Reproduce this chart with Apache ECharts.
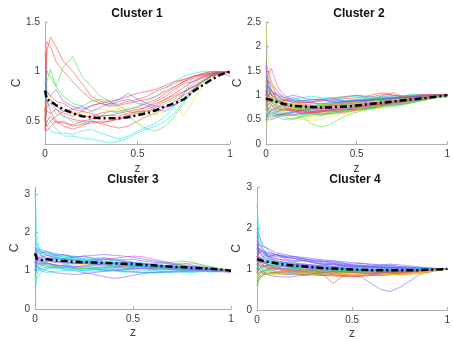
<!DOCTYPE html>
<html>
<head>
<meta charset="utf-8">
<script src="https://cdn.jsdelivr.net/npm/echarts@6/dist/echarts.min.js"></script>
<style>html,body{margin:0;padding:0;background:#fff}#c{width:453px;height:341px}</style>
</head>
<body>
<div id="c"></div>
<script>
const zValues = [0,0.01,0.03,0.06,0.1,0.15,0.2,0.25,0.3,0.35,0.4,0.45,0.5,0.55,0.6,0.65,0.7,0.75,0.8,0.85,0.9,0.95,1];
const titles = ['Cluster 1','Cluster 2','Cluster 3','Cluster 4'];
const xTicks = [0,0.5,1];
const yTicks1 = [0.5,1,1.5];
const yTicks2 = [0,0.5,1,1.5,2,2.5];
const yTicks3 = [0,1,2,3];
const yTicks4 = [0,1,2,3];

const mean1 = [0.81,0.72,0.7,0.66,0.62,0.58,0.55,0.54,0.53,0.53,0.53,0.54,0.56,0.58,0.61,0.65,0.68,0.72,0.8,0.86,0.92,0.97,1.0];
const mean2 = [0.93,0.92,0.9,0.86,0.82,0.78,0.77,0.76,0.75,0.75,0.76,0.77,0.79,0.81,0.83,0.85,0.87,0.89,0.91,0.93,0.95,0.97,1.0];
const mean3 = [1.45,1.3,1.28,1.3,1.27,1.25,1.23,1.22,1.21,1.2,1.19,1.18,1.17,1.15,1.14,1.12,1.1,1.09,1.07,1.06,1.05,1.03,1.0];
const mean4 = [1.24,1.22,1.2,1.17,1.14,1.1,1.08,1.06,1.04,1.02,1.01,1.0,0.99,0.98,0.97,0.97,0.97,0.97,0.97,0.97,0.98,0.99,1.0];

const colors1 = ['r','r','g','g','c','c','b','r','r','r','r','r','y','r','c','r','b'];
const lines1 = [
[0.5,1.3,1.25,1.1,1.0,0.9,0.8,0.72,0.68,0.65,0.66,0.68,0.7,0.72,0.75,0.8,0.85,0.9,0.93,0.96,0.98,1.0,0.98],
[0.45,1.2,1.35,1.25,1.1,1.0,0.88,0.75,0.7,0.68,0.67,0.7,0.72,0.75,0.8,0.84,0.88,0.92,0.95,0.97,0.99,1.0,1.0],
[0.7,1.0,0.95,0.85,1.05,1.15,0.95,0.85,0.75,0.7,0.62,0.55,0.48,0.42,0.4,0.45,0.55,0.68,0.8,0.88,0.95,0.98,1.0],
[0.6,0.9,1.02,0.85,0.75,0.68,0.65,0.7,0.72,0.7,0.65,0.6,0.58,0.6,0.62,0.68,0.72,0.78,0.85,0.92,0.97,1.0,1.0],
[0.7,0.55,0.5,0.42,0.35,0.35,0.33,0.32,0.3,0.28,0.3,0.33,0.38,0.42,0.45,0.5,0.58,0.7,0.8,0.9,0.96,1.0,1.0],
[0.6,0.45,0.4,0.38,0.38,0.37,0.4,0.42,0.38,0.35,0.32,0.35,0.4,0.44,0.48,0.55,0.65,0.78,0.95,0.98,1.0,1.0,0.99],
[1.2,0.8,0.75,0.82,0.7,0.65,0.62,0.66,0.68,0.66,0.7,0.72,0.68,0.66,0.62,0.6,0.66,0.78,0.88,0.94,0.97,0.99,1.0],
[0.42,0.5,0.55,0.48,0.5,0.45,0.47,0.48,0.5,0.5,0.52,0.55,0.58,0.62,0.66,0.72,0.78,0.84,0.9,0.95,0.98,1.0,1.0],
[0.55,0.6,0.58,0.62,0.55,0.52,0.5,0.5,0.48,0.5,0.53,0.56,0.6,0.65,0.7,0.75,0.82,0.88,0.9,0.94,0.97,0.99,1.0],
[0.48,0.45,0.5,0.55,0.6,0.58,0.55,0.55,0.58,0.6,0.6,0.62,0.64,0.68,0.72,0.78,0.84,0.9,0.95,0.98,1.0,1.0,1.0],
[0.4,0.7,0.6,0.5,0.45,0.42,0.45,0.5,0.48,0.45,0.43,0.45,0.5,0.55,0.58,0.64,0.7,0.76,0.82,0.9,0.96,0.99,1.0],
[0.5,0.65,0.68,0.62,0.58,0.55,0.6,0.65,0.68,0.7,0.72,0.75,0.78,0.8,0.82,0.86,0.9,0.92,0.95,0.97,0.98,1.0,0.95],
[0.7,0.75,0.7,0.65,0.62,0.6,0.58,0.6,0.62,0.6,0.62,0.64,0.6,0.58,0.56,0.6,0.7,0.55,0.7,0.85,0.95,0.98,1.0],
[0.6,0.8,0.75,0.7,0.68,0.62,0.6,0.58,0.55,0.56,0.58,0.6,0.62,0.64,0.68,0.72,0.76,0.8,0.84,0.9,0.96,0.98,1.0],
[0.8,0.7,0.65,0.58,0.55,0.5,0.48,0.5,0.55,0.6,0.58,0.62,0.65,0.7,0.75,0.82,0.9,0.95,0.98,1.0,1.0,1.0,1.0],
[0.45,0.4,0.45,0.5,0.48,0.46,0.5,0.52,0.55,0.56,0.55,0.58,0.6,0.6,0.64,0.7,0.74,0.8,0.85,0.9,0.95,0.98,1.0],
[0.9,0.7,0.72,0.65,0.6,0.62,0.65,0.6,0.64,0.68,0.72,0.78,0.72,0.68,0.65,0.64,0.66,0.72,0.82,0.9,0.96,0.99,1.0]
];

const colors2 = ['y','r','m','g','c','b','y','r','g','c','m','b','y','r','g','c','b','r','m','g','y','c','b','r','g','y','m','r',
  'g','c','r','y','b','m','g','r','c','y','g','b','r','m'];
const lines2 = [
[2.45,1.8,1.3,1.0,0.85,0.8,0.78,0.75,0.72,0.74,0.76,0.78,0.8,0.83,0.85,0.86,0.88,0.9,0.92,0.94,0.96,0.98,1.0],
[1.7,1.5,1.25,1.1,0.95,0.88,0.85,0.86,0.88,0.9,0.92,0.93,0.95,0.96,0.98,1.02,1.0,0.98,1.0,1.02,1.0,1.01,1.0],
[1.6,1.4,1.55,1.2,1.0,0.9,0.88,0.85,0.82,0.84,0.86,0.88,0.9,0.92,0.94,0.95,0.96,0.97,0.98,0.99,1.0,1.02,1.0],
[0.6,0.8,0.9,0.75,0.65,0.6,0.55,0.42,0.35,0.4,0.5,0.6,0.65,0.7,0.74,0.78,0.82,0.86,0.88,0.92,0.95,0.98,1.0],
[1.3,1.1,1.0,0.95,0.9,0.92,0.95,0.98,0.95,0.94,0.9,0.88,0.87,0.88,0.9,0.92,0.93,0.94,0.96,0.97,0.98,0.99,1.0],
[0.5,0.6,0.55,0.6,0.62,0.6,0.62,0.64,0.66,0.68,0.7,0.72,0.75,0.78,0.8,0.82,0.85,0.88,0.9,0.93,0.96,0.98,1.0],
[0.3,0.45,0.5,0.55,0.6,0.55,0.5,0.48,0.5,0.55,0.6,0.64,0.68,0.72,0.75,0.8,0.84,0.88,0.9,0.92,0.95,0.97,1.0],
[1.2,1.0,1.1,0.9,0.8,0.75,0.72,0.7,0.72,0.75,0.78,0.82,0.85,0.88,0.92,1.0,1.05,0.98,0.95,0.98,1.0,1.0,1.0],
[0.9,1.1,1.0,0.85,0.78,0.72,0.7,0.68,0.66,0.68,0.72,0.75,0.78,0.8,0.82,0.84,0.86,0.88,0.9,0.93,0.96,0.99,1.0],
[1.0,0.8,0.7,0.65,0.6,0.58,0.62,0.66,0.7,0.72,0.75,0.78,0.8,0.82,0.84,0.85,0.86,0.88,0.92,0.95,0.98,1.0,1.0],
[0.7,0.65,0.6,0.58,0.62,0.66,0.7,0.72,0.74,0.78,0.8,0.82,0.8,0.82,0.85,0.88,0.9,0.91,0.92,0.94,0.96,0.98,1.0],
[1.1,1.0,0.9,0.85,0.88,0.9,0.86,0.84,0.82,0.84,0.86,0.88,0.9,0.91,0.92,0.93,0.94,0.95,0.96,0.97,0.98,0.99,1.0],
[0.8,0.7,0.75,0.7,0.65,0.62,0.58,0.56,0.58,0.6,0.62,0.65,0.68,0.7,0.72,0.74,0.76,0.8,0.84,0.88,0.92,0.96,1.0],
[1.4,1.2,1.0,0.9,0.85,0.82,0.8,0.78,0.8,0.82,0.84,0.86,0.88,0.9,0.92,0.94,0.95,0.96,0.97,0.98,0.99,1.0,1.0],
[1.1,0.9,0.8,0.7,0.68,0.7,0.75,0.78,0.8,0.82,0.85,0.88,0.9,0.92,0.93,0.94,0.95,0.96,0.97,0.98,0.99,1.0,1.0],
[0.55,0.65,0.7,0.75,0.72,0.7,0.74,0.78,0.82,0.85,0.88,0.9,0.92,0.93,0.94,0.95,0.96,0.97,0.98,0.99,1.0,1.0,1.0],
[0.9,0.75,0.65,0.6,0.62,0.65,0.68,0.7,0.7,0.68,0.66,0.68,0.7,0.72,0.76,0.8,0.84,0.86,0.88,0.9,0.94,0.98,1.0],
[0.7,0.8,0.85,0.8,0.75,0.7,0.68,0.66,0.65,0.66,0.68,0.7,0.72,0.74,0.78,0.82,0.86,0.9,0.94,0.96,0.98,1.0,1.0],
[1.0,1.2,1.1,0.95,0.85,0.8,0.78,0.76,0.74,0.72,0.74,0.76,0.78,0.8,0.82,0.84,0.86,0.88,0.9,0.92,0.95,0.98,1.0],
[0.8,0.7,0.6,0.55,0.5,0.52,0.55,0.6,0.62,0.64,0.66,0.68,0.7,0.72,0.74,0.76,0.78,0.8,0.84,0.88,0.92,0.96,1.0],
[1.0,0.9,0.85,0.8,0.78,0.76,0.74,0.72,0.7,0.7,0.72,0.74,0.76,0.78,0.8,0.83,0.86,0.88,0.9,0.92,0.95,0.98,1.05],
[1.5,1.2,1.1,1.0,0.95,0.9,0.88,0.9,0.92,0.94,0.96,0.97,0.98,0.97,0.96,0.97,0.98,0.99,1.0,1.0,1.0,1.0,1.0],
[0.6,0.55,0.5,0.55,0.6,0.65,0.7,0.75,0.78,0.8,0.82,0.84,0.86,0.88,0.9,0.91,0.92,0.93,0.94,0.95,0.96,0.98,0.95],
[0.5,0.6,0.7,0.72,0.7,0.68,0.66,0.64,0.62,0.62,0.64,0.66,0.7,0.74,0.76,0.78,0.8,0.82,0.85,0.9,0.95,1.0,1.0],
[1.3,1.0,0.9,0.85,0.8,0.78,0.76,0.74,0.76,0.78,0.8,0.82,0.84,0.86,0.88,0.9,0.92,0.94,0.96,0.97,0.98,0.99,1.0],
[0.4,0.5,0.6,0.65,0.7,0.72,0.74,0.76,0.78,0.8,0.82,0.84,0.86,0.87,0.88,0.9,0.91,0.92,0.94,0.96,0.98,1.0,1.0],
[1.2,0.9,0.8,0.75,0.7,0.66,0.64,0.66,0.68,0.7,0.72,0.74,0.76,0.79,0.82,0.85,0.88,0.9,0.92,0.94,0.97,0.99,1.0],
[0.9,1.3,1.2,1.0,0.9,0.85,0.82,0.8,0.78,0.8,0.82,0.84,0.86,0.88,0.9,0.92,0.94,0.95,0.96,0.98,0.99,1.0,1.0],
[1.4,1.2,0.95,0.8,0.7,0.72,0.7,0.74,0.76,0.8,0.78,0.82,0.85,0.83,0.87,0.9,0.88,0.92,0.95,0.93,0.97,1.0,1.0],
[0.8,1.0,0.85,0.92,0.8,0.85,0.9,0.86,0.9,0.95,0.92,0.96,1.0,0.97,0.95,0.98,1.0,0.98,1.02,1.0,0.99,1.01,1.0],
[1.1,0.7,0.8,0.65,0.72,0.68,0.62,0.66,0.7,0.67,0.72,0.7,0.75,0.78,0.76,0.8,0.83,0.86,0.9,0.92,0.95,0.98,1.0],
[0.6,0.9,0.7,0.78,0.7,0.6,0.55,0.58,0.62,0.66,0.7,0.68,0.72,0.75,0.78,0.76,0.8,0.84,0.86,0.9,0.93,0.97,1.0],
[1.2,1.4,1.1,1.0,0.9,0.95,0.88,0.92,0.9,0.88,0.85,0.87,0.9,0.88,0.9,0.93,0.95,0.94,0.97,0.98,1.0,1.0,1.0],
[0.9,0.6,0.7,0.62,0.58,0.6,0.64,0.62,0.66,0.7,0.68,0.72,0.74,0.76,0.8,0.82,0.8,0.84,0.88,0.9,0.94,0.98,1.0],
[0.7,1.2,1.0,0.9,0.82,0.78,0.72,0.74,0.7,0.72,0.76,0.74,0.78,0.8,0.78,0.82,0.85,0.87,0.9,0.94,0.96,0.98,1.0],
[1.0,0.85,0.95,0.88,0.9,0.86,0.84,0.86,0.9,0.92,0.95,0.98,1.0,0.98,1.02,1.05,1.0,0.97,0.98,1.0,1.02,1.0,1.0],
[0.45,0.7,0.6,0.68,0.62,0.66,0.6,0.62,0.58,0.62,0.65,0.7,0.72,0.7,0.74,0.78,0.8,0.82,0.85,0.88,0.92,0.96,1.0],
[1.3,1.1,0.9,0.95,0.85,0.8,0.82,0.78,0.8,0.83,0.8,0.84,0.86,0.84,0.88,0.86,0.9,0.92,0.91,0.94,0.97,0.99,1.0],
[0.5,0.55,0.65,0.6,0.55,0.5,0.58,0.62,0.6,0.64,0.68,0.72,0.7,0.74,0.78,0.8,0.84,0.82,0.86,0.9,0.94,0.97,1.0],
[1.0,1.3,1.0,1.05,0.95,1.0,0.95,0.9,0.92,0.88,0.9,0.86,0.88,0.9,0.92,0.9,0.93,0.95,0.96,0.98,0.99,1.0,1.0],
[0.8,0.95,1.1,0.9,0.75,0.7,0.68,0.64,0.66,0.7,0.72,0.7,0.74,0.78,0.8,0.82,0.86,0.88,0.92,0.95,0.97,1.0,1.02],
[1.6,1.1,0.85,0.75,0.8,0.74,0.78,0.72,0.74,0.77,0.8,0.78,0.82,0.85,0.84,0.88,0.9,0.91,0.93,0.95,0.97,0.99,1.0]
];

const colors3 = ['c','c','b','b','c','g','m','c','b','c','y','b','c','c','b','m','c','b','g','c','b','c','b','c',
  'c','b','c','b','c','m'];
const lines3 = [
[3.1,1.8,1.4,1.3,1.35,1.3,1.28,1.25,1.2,1.22,1.18,1.15,1.12,1.1,1.08,1.1,1.12,1.08,1.05,1.04,1.03,1.01,1.0],
[0.4,0.9,1.1,1.2,1.15,1.1,1.05,1.0,0.98,1.0,1.02,1.0,0.98,0.96,0.95,0.97,0.98,1.0,1.0,1.02,1.01,1.0,1.0],
[1.2,1.5,1.55,1.5,1.45,1.4,1.35,1.3,1.28,1.25,1.22,1.2,1.18,1.16,1.14,1.12,1.1,1.08,1.06,1.05,1.03,1.02,1.0],
[1.0,1.3,1.2,1.15,1.1,1.05,1.0,0.95,0.9,0.85,0.8,0.82,0.88,0.92,0.95,0.97,0.99,1.0,1.02,1.03,1.02,1.0,0.98],
[1.6,1.7,1.5,1.45,1.4,1.38,1.35,1.3,1.3,1.28,1.26,1.24,1.2,1.18,1.16,1.13,1.1,1.08,1.06,1.05,1.04,1.02,1.0],
[0.8,1.1,1.2,1.25,1.3,1.25,1.2,1.18,1.15,1.12,1.1,1.12,1.14,1.16,1.18,1.2,1.22,1.25,1.22,1.15,1.1,1.05,1.0],
[1.3,1.4,1.35,1.3,1.25,1.2,1.22,1.25,1.28,1.3,1.32,1.35,1.38,1.36,1.3,1.25,1.2,1.15,1.1,1.08,1.05,1.03,1.0],
[1.1,1.2,1.25,1.2,1.15,1.12,1.1,1.08,1.06,1.05,1.04,1.03,1.02,1.01,1.0,0.98,0.97,0.98,0.99,1.0,1.0,1.0,1.0],
[1.4,1.6,1.5,1.4,1.35,1.3,1.28,1.25,1.22,1.2,1.18,1.16,1.14,1.12,1.1,1.08,1.06,1.05,1.04,1.03,1.02,1.01,1.0],
[0.9,1.0,1.05,1.1,1.08,1.05,1.02,1.0,1.02,1.05,1.08,1.1,1.08,1.05,1.02,1.0,0.98,0.96,0.95,0.97,0.98,0.99,1.0],
[0.7,1.0,1.1,1.15,1.1,1.12,1.14,1.16,1.15,1.14,1.12,1.1,1.08,1.06,1.05,1.04,1.03,1.02,1.01,1.0,1.0,1.0,1.0],
[1.3,1.45,1.4,1.35,1.3,1.32,1.35,1.38,1.4,1.42,1.4,1.38,1.35,1.3,1.26,1.22,1.18,1.14,1.1,1.08,1.05,1.02,1.0],
[1.7,1.5,1.45,1.4,1.38,1.35,1.3,1.25,1.2,1.18,1.16,1.14,1.12,1.1,1.08,1.06,1.05,1.04,1.03,1.02,1.01,1.0,1.0],
[1.2,1.1,1.0,0.95,0.98,1.0,1.02,1.04,1.06,1.08,1.1,1.12,1.14,1.12,1.1,1.08,1.06,1.04,1.02,1.01,1.0,1.0,1.0],
[1.5,1.3,1.25,1.2,1.15,1.1,1.08,1.06,1.04,1.02,1.0,0.98,0.96,0.95,0.94,0.95,0.96,0.97,0.98,0.99,1.0,1.0,1.0],
[1.1,1.3,1.35,1.4,1.35,1.3,1.25,1.2,1.18,1.15,1.12,1.1,1.08,1.06,1.05,1.1,1.15,1.2,1.15,1.1,1.05,1.02,1.0],
[2.0,1.6,1.5,1.45,1.42,1.4,1.38,1.35,1.32,1.3,1.28,1.25,1.22,1.2,1.18,1.15,1.12,1.1,1.08,1.06,1.04,1.02,1.0],
[1.0,1.15,1.2,1.18,1.15,1.12,1.1,1.12,1.15,1.18,1.2,1.22,1.2,1.18,1.15,1.12,1.1,1.08,1.06,1.04,1.02,1.01,1.0],
[1.3,1.2,1.15,1.12,1.1,1.08,1.06,1.05,1.04,1.03,1.02,1.04,1.06,1.08,1.1,1.12,1.14,1.16,1.2,1.15,1.08,1.02,1.0],
[0.6,0.8,0.95,1.05,1.1,1.15,1.18,1.2,1.22,1.2,1.18,1.15,1.12,1.1,1.08,1.06,1.04,1.02,1.0,0.98,0.96,0.98,1.0],
[1.2,1.35,1.3,1.25,1.22,1.2,1.18,1.2,1.25,1.3,1.28,1.25,1.22,1.18,1.15,1.12,1.1,1.1,1.12,1.1,1.06,1.02,1.0],
[1.4,1.55,1.5,1.45,1.4,1.35,1.3,1.28,1.25,1.22,1.2,1.18,1.15,1.12,1.1,1.08,1.06,1.05,1.04,1.03,1.02,1.01,1.0],
[0.9,1.1,1.05,1.0,0.95,0.92,0.9,0.92,0.95,0.98,1.0,1.02,1.04,1.06,1.05,1.04,1.03,1.02,1.01,1.0,0.98,0.97,0.95],
[1.3,1.25,1.2,1.25,1.3,1.32,1.3,1.28,1.25,1.22,1.2,1.18,1.16,1.14,1.12,1.1,1.08,1.06,1.04,1.03,1.02,1.01,1.0],
[1.5,1.3,1.4,1.3,1.32,1.25,1.28,1.22,1.24,1.18,1.2,1.15,1.17,1.12,1.14,1.1,1.08,1.1,1.06,1.05,1.03,1.02,1.0],
[1.1,1.4,1.25,1.3,1.22,1.25,1.18,1.2,1.15,1.17,1.12,1.14,1.1,1.12,1.08,1.1,1.06,1.08,1.05,1.04,1.02,1.01,1.0],
[0.8,1.2,1.0,1.1,1.05,1.1,1.08,1.12,1.1,1.08,1.1,1.06,1.05,1.07,1.04,1.05,1.03,1.02,1.03,1.01,1.0,1.0,1.0],
[1.6,1.5,1.45,1.5,1.4,1.42,1.35,1.38,1.32,1.34,1.3,1.28,1.3,1.25,1.22,1.2,1.16,1.12,1.1,1.08,1.05,1.02,1.0],
[1.2,1.0,1.15,1.05,1.1,1.02,1.06,1.0,1.04,0.98,1.0,0.96,0.98,0.95,0.97,0.94,0.96,0.98,0.97,0.99,1.0,1.0,1.0],
[1.0,1.25,1.15,1.2,1.12,1.15,1.1,1.12,1.08,1.1,1.06,1.08,1.05,1.06,1.04,1.05,1.03,1.04,1.02,1.01,1.0,1.0,1.0]
];

const colors4 = ['c','b','b','r','b','g','y','m','c','b','r','g','b','y','c','r','b','m','g','c','b','r','y','b','g','m','c','r','b','g',
  'b','c','g','r','b','y','m','b','c','r','g','b','y','c','b','m'];
const lines4 = [
[2.6,1.9,1.5,1.3,1.2,1.15,1.1,1.08,1.05,1.03,1.02,1.0,0.99,0.98,0.97,0.96,0.96,0.97,0.98,0.98,0.99,1.0,1.0],
[2.0,1.8,1.6,1.45,1.35,1.3,1.25,1.2,1.18,1.15,1.12,1.1,1.08,1.06,1.05,1.04,1.03,1.02,1.01,1.0,1.0,1.0,1.0],
[1.5,1.6,1.55,1.5,1.4,1.35,1.3,1.25,1.2,1.18,1.15,1.12,1.1,1.08,1.06,1.05,1.04,1.03,1.02,1.01,1.0,1.0,1.0],
[1.1,1.3,1.2,1.1,1.0,0.95,0.92,0.9,0.88,0.85,0.65,0.82,0.86,0.88,0.9,0.92,0.94,0.95,0.96,0.97,0.98,0.99,1.0],
[1.0,1.1,1.05,1.0,0.95,0.92,0.9,0.88,0.87,0.86,0.85,0.84,0.83,0.8,0.65,0.5,0.45,0.55,0.7,0.85,0.92,0.97,1.0],
[0.6,0.8,0.9,0.95,1.0,1.02,1.0,0.98,0.96,0.94,0.93,0.92,0.92,0.93,0.94,0.95,0.96,0.97,0.98,0.98,0.99,1.0,1.0],
[0.5,0.7,0.85,0.9,0.92,0.94,0.95,0.94,0.93,0.92,0.9,0.88,0.86,0.85,0.84,0.85,0.86,0.87,0.88,0.9,0.94,0.98,1.0],
[1.3,1.4,1.35,1.3,1.25,1.2,1.15,1.1,1.08,1.06,1.04,1.02,1.0,0.98,0.96,0.95,0.94,0.93,0.95,0.97,0.98,0.99,1.0],
[1.2,1.1,1.0,0.95,0.9,0.88,0.86,0.88,0.9,0.92,0.94,0.95,0.96,0.97,0.98,0.99,1.0,1.0,1.0,1.0,1.0,1.0,1.0],
[1.8,1.5,1.4,1.38,1.35,1.32,1.3,1.28,1.25,1.22,1.2,1.18,1.16,1.14,1.12,1.1,1.08,1.06,1.05,1.03,1.02,1.01,1.0],
[0.9,1.0,1.1,1.05,1.0,0.98,0.96,0.94,0.92,0.9,0.88,0.87,0.86,0.85,0.86,0.87,0.88,0.9,0.92,0.94,0.96,0.98,1.0],
[1.4,1.3,1.2,1.15,1.1,1.06,1.02,1.0,0.98,0.96,0.95,0.94,0.93,0.92,0.91,0.9,0.9,0.91,0.93,0.95,0.97,0.99,1.0],
[1.6,1.45,1.4,1.35,1.3,1.28,1.26,1.24,1.22,1.2,1.17,1.14,1.1,1.08,1.06,1.05,1.04,1.03,1.02,1.01,1.0,1.0,1.0],
[1.0,0.95,0.9,0.88,0.86,0.88,0.9,0.92,0.9,0.88,0.86,0.84,0.86,0.88,0.9,0.88,0.86,0.85,0.84,0.86,0.9,0.95,1.0],
[0.7,0.9,1.0,1.1,1.12,1.1,1.08,1.06,1.04,1.02,1.0,0.99,0.98,0.97,0.96,0.96,0.97,0.98,0.99,1.0,1.0,1.0,1.0],
[1.2,1.5,1.4,1.3,1.2,1.15,1.1,1.05,1.02,1.0,0.98,0.96,0.95,0.94,0.93,0.92,0.91,0.92,0.94,0.96,0.98,0.99,1.0],
[1.1,1.3,1.25,1.2,1.18,1.16,1.14,1.12,1.1,1.08,1.06,1.05,1.04,1.06,1.08,1.1,1.12,1.1,1.08,1.05,1.03,1.01,1.0],
[0.8,0.9,0.95,0.98,1.0,1.02,1.04,1.02,1.0,0.98,0.96,0.95,0.94,0.93,0.92,0.91,0.9,0.89,0.9,0.92,0.95,0.98,1.0],
[1.0,1.2,1.15,1.1,1.05,1.0,0.98,0.96,0.95,0.94,0.93,0.92,0.91,0.9,0.9,0.9,0.91,0.92,0.94,0.96,0.98,0.99,1.0],
[1.5,1.3,1.2,1.15,1.12,1.1,1.08,1.05,1.03,1.02,1.01,1.0,1.0,1.0,0.99,0.99,0.99,1.0,1.0,1.0,1.0,1.0,1.0],
[0.9,1.0,0.9,0.85,0.82,0.8,0.82,0.85,0.88,0.9,0.92,0.94,0.95,0.96,0.97,0.98,0.98,0.99,0.99,1.0,1.0,1.0,1.0],
[1.3,1.2,1.1,1.05,1.0,0.96,0.94,0.92,0.9,0.88,0.86,0.85,0.84,0.83,0.84,0.85,0.86,0.87,0.88,0.9,0.93,0.97,1.0],
[1.2,1.1,1.05,1.02,1.0,0.98,0.97,0.96,0.95,0.94,0.93,0.92,0.92,0.92,0.93,0.94,0.95,0.9,0.88,0.9,0.94,0.97,1.0],
[1.4,1.5,1.45,1.4,1.35,1.3,1.25,1.2,1.16,1.12,1.1,1.08,1.06,1.04,1.03,1.02,1.01,1.0,1.0,1.0,1.0,1.0,1.0],
[0.7,0.8,0.85,0.9,0.92,0.93,0.94,0.95,0.96,0.95,0.94,0.93,0.92,0.91,0.9,0.92,0.94,0.95,0.96,0.97,0.98,0.99,1.0],
[1.6,1.4,1.3,1.25,1.2,1.15,1.1,1.08,1.05,1.03,1.01,1.0,0.98,0.97,0.96,0.95,0.95,0.95,0.96,0.97,0.98,0.99,1.0],
[1.0,1.2,1.3,1.25,1.2,1.15,1.12,1.1,1.08,1.06,1.04,1.03,1.02,1.01,1.0,1.0,1.0,1.0,1.0,1.0,1.0,1.0,1.0],
[0.6,0.75,0.85,0.9,0.92,0.9,0.88,0.86,0.85,0.84,0.83,0.82,0.82,0.83,0.84,0.85,0.86,0.87,0.88,0.9,0.93,0.97,1.0],
[1.3,1.2,1.15,1.1,1.08,1.06,1.05,1.04,1.03,1.02,1.01,1.0,0.99,0.98,0.97,0.96,0.95,0.96,0.97,0.98,0.99,1.0,1.0],
[1.1,1.0,1.05,1.08,1.1,1.08,1.06,1.04,1.02,1.0,0.98,0.97,0.96,0.95,0.94,0.94,0.95,0.96,0.97,0.98,0.99,1.0,1.0],
[1.9,1.6,1.5,1.3,1.35,1.25,1.2,1.22,1.15,1.12,1.14,1.1,1.08,1.1,1.06,1.05,1.07,1.04,1.03,1.02,1.01,1.0,1.0],
[1.4,1.2,1.3,1.15,1.2,1.1,1.12,1.05,1.08,1.04,1.02,1.05,1.0,1.02,0.99,1.0,1.01,0.98,1.0,0.99,1.0,1.0,1.0],
[0.9,1.1,0.95,1.0,0.92,0.95,0.9,0.93,0.9,0.92,0.88,0.9,0.92,0.9,0.88,0.9,0.92,0.94,0.95,0.97,0.98,0.99,1.0],
[1.0,0.85,0.95,0.88,0.9,0.86,0.88,0.85,0.87,0.84,0.86,0.84,0.82,0.84,0.86,0.85,0.87,0.88,0.9,0.92,0.95,0.98,1.0],
[1.7,1.4,1.45,1.3,1.35,1.28,1.3,1.24,1.2,1.18,1.2,1.15,1.12,1.14,1.1,1.08,1.1,1.06,1.04,1.03,1.02,1.01,1.0],
[0.8,0.95,1.05,0.98,1.0,0.96,0.98,0.95,0.93,0.95,0.92,0.9,0.88,0.9,0.92,0.88,0.86,0.88,0.9,0.92,0.95,0.98,1.0],
[1.2,1.3,1.2,1.25,1.15,1.12,1.08,1.1,1.05,1.06,1.02,1.04,1.0,0.98,1.0,0.97,0.98,0.96,0.97,0.98,0.99,1.0,1.0],
[1.3,1.45,1.3,1.35,1.25,1.22,1.18,1.2,1.15,1.1,1.12,1.08,1.05,1.07,1.04,1.02,1.03,1.01,1.0,1.0,1.0,1.0,1.0],
[0.55,0.8,0.9,1.0,1.05,1.0,1.02,0.98,1.0,0.97,0.98,0.96,0.97,0.95,0.96,0.97,0.98,0.98,0.99,1.0,1.0,1.0,1.0],
[1.5,1.2,1.1,1.0,1.02,0.96,0.98,0.94,0.95,0.92,0.93,0.9,0.91,0.9,0.88,0.9,0.92,0.91,0.93,0.95,0.97,0.99,1.0],
[1.2,1.0,1.1,1.02,1.05,1.0,0.98,1.0,0.97,0.95,0.96,0.94,0.95,0.93,0.94,0.95,0.93,0.95,0.96,0.97,0.98,0.99,1.0],
[1.1,1.25,1.15,1.2,1.12,1.15,1.1,1.12,1.08,1.1,1.06,1.08,1.04,1.05,1.03,1.04,1.02,1.03,1.01,1.0,1.0,1.0,1.0],
[0.7,0.85,0.8,0.9,0.85,0.9,0.88,0.9,0.86,0.88,0.85,0.87,0.84,0.86,0.83,0.85,0.87,0.85,0.88,0.9,0.93,0.97,1.0],
[2.2,1.7,1.4,1.25,1.15,1.1,1.05,1.06,1.02,1.03,1.0,1.01,0.99,1.0,0.98,0.99,0.98,0.99,1.0,1.0,1.0,1.0,1.0],
[1.25,1.15,1.2,1.1,1.05,1.08,1.02,1.04,1.0,1.02,0.98,1.0,0.97,0.98,0.96,0.97,0.95,0.96,0.97,0.98,0.99,1.0,1.0],
[0.95,1.15,1.05,1.1,1.0,1.02,0.96,0.98,0.95,0.96,0.93,0.94,0.92,0.93,0.91,0.92,0.93,0.94,0.95,0.96,0.98,0.99,1.0]
];

const palette = {r:'#ff3a3a', g:'#2ee02e', b:'#6a5cff', c:'#10e0e8', y:'#e6e61e', m:'#e040e0'};

const panels = [
  {lines: lines1, colors: colors1, mean: mean1, yMin: 0.27, yMax: 1.5, yTicks: yTicks1,
   grid: {left: 45, top: 22, width: 185, height: 122}, yGap: 22, xGap: 19, tx: 137, ty: 8},
  {lines: lines2, colors: colors2, mean: mean2, yMin: 0, yMax: 2.5, yTicks: yTicks2,
   grid: {left: 266, top: 22, width: 186, height: 122}, yGap: 22, xGap: 19, tx: 359, ty: 8},
  {lines: lines3, colors: colors3, mean: mean3, yMin: 0, yMax: 3.18, yTicks: yTicks3,
   grid: {left: 35, top: 187, width: 196, height: 122}, yGap: 14, xGap: 18, tx: 133, ty: 174},
  {lines: lines4, colors: colors4, mean: mean4, yMin: 0, yMax: 3, yTicks: yTicks4,
   grid: {left: 257, top: 187, width: 196, height: 123}, yGap: 14, xGap: 18, tx: 355, ty: 174}
];

const FONT = 'Liberation Sans, Arial, sans-serif';
const textColor = '#3a3a3a';
const axisColor = '#b0b0b0';

const option = {
  animation: false,
  backgroundColor: '#fff',
  title: panels.map((p, i) => ({
    text: titles[i], left: p.tx, top: p.ty, textAlign: 'center', padding: 0,
    textStyle: {fontFamily: FONT, fontSize: 12, fontWeight: 'bold', color: '#111'}
  })),
  grid: panels.map(p => Object.assign({containLabel: false}, p.grid)),
  xAxis: panels.map((p, i) => ({
    type: 'value', gridIndex: i, min: 0, max: 1,
    name: 'z', nameLocation: 'middle', nameGap: p.xGap,
    nameTextStyle: {fontFamily: FONT, fontSize: 12, color: textColor},
    axisLine: {show: true, lineStyle: {color: axisColor, width: 1}},
    axisTick: {show: true, inside: true, length: 3, customValues: xTicks, lineStyle: {color: axisColor}},
    axisLabel: {customValues: xTicks, fontFamily: FONT, fontSize: 10, color: textColor, margin: 5,
      formatter: v => String(v)},
    splitLine: {show: false}
  })),
  yAxis: panels.map((p, i) => ({
    type: 'value', gridIndex: i, min: p.yMin, max: p.yMax,
    name: 'C', nameLocation: 'middle', nameGap: p.yGap,
    nameTextStyle: {fontFamily: FONT, fontSize: 12, color: textColor},
    axisLine: {show: true, lineStyle: {color: axisColor, width: 1}},
    axisTick: {show: true, inside: true, length: 3, customValues: p.yTicks, lineStyle: {color: axisColor}},
    axisLabel: {customValues: p.yTicks, fontFamily: FONT, fontSize: 10, color: textColor, margin: 5,
      formatter: v => String(v)},
    splitLine: {show: false}
  })),
  series: []
};

panels.forEach((p, i) => {
  p.lines.forEach((ln, j) => {
    option.series.push({
      type: 'line', xAxisIndex: i, yAxisIndex: i, symbol: 'none', silent: true,
      data: zValues.map((z, k) => [z, ln[k]]),
      lineStyle: {width: 0.7, color: palette[p.colors[j]], opacity: 0.8},
      z: 2
    });
  });
  option.series.push({
    type: 'line', xAxisIndex: i, yAxisIndex: i, symbol: 'none', silent: true,
    data: zValues.map((z, k) => [z, p.mean[k]]),
    lineStyle: {width: 2.5, color: '#000', type: [7, 3, 2, 3]},
    z: 5
  });
});

const chart = echarts.init(document.getElementById('c'), null, {renderer: 'canvas'});
chart.setOption(option);
</script>
</body>
</html>
